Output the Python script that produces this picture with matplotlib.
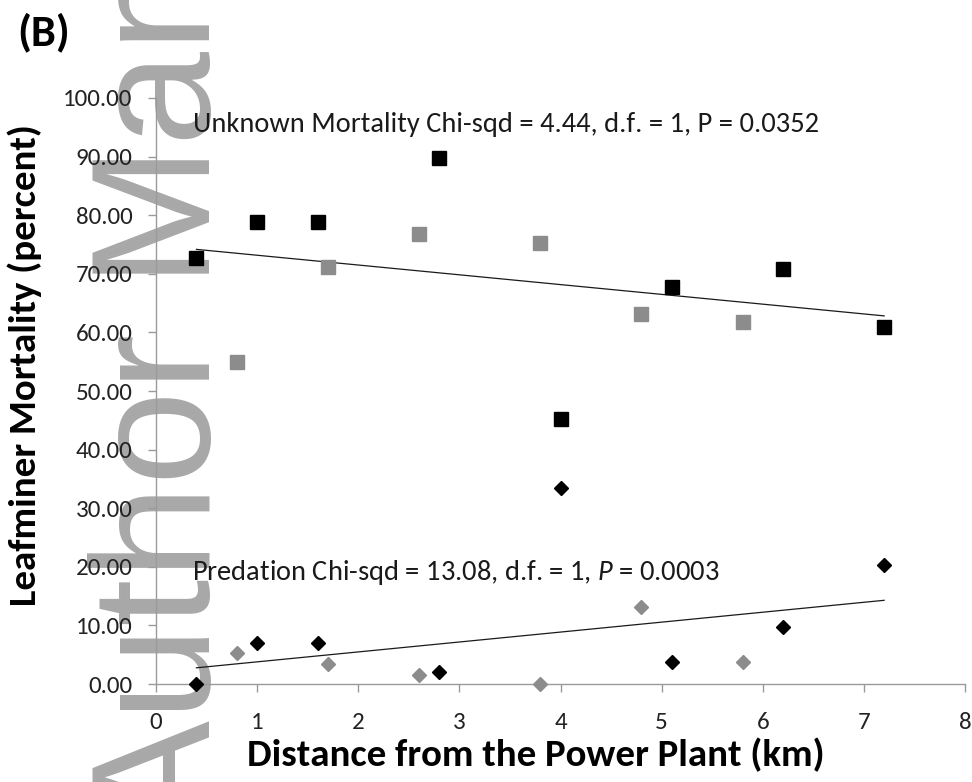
import numpy as np
import matplotlib.pyplot as plt

plt.rcParams['font.family'] = 'Carlito'
plt.rcParams['mathtext.fontset'] = 'custom'
plt.rcParams['mathtext.rm'] = 'Carlito'
plt.rcParams['mathtext.it'] = 'Carlito:italic'

# distance from the plant (km) for the two site groups
dist_black = [0.4, 1.0, 1.6, 2.8, 4.0, 5.1, 6.2, 7.2]
dist_grey = [0.8, 1.7, 2.6, 3.8, 4.8, 5.8]

# unknown mortality (percent)
unknown_black = [72.7, 78.8, 78.8, 89.8, 45.2, 67.7, 70.8, 60.9]
unknown_grey = [55.0, 71.2, 76.8, 75.3, 63.1, 61.8]

# predation (percent)
pred_black = [0.0, 7.0, 7.0, 2.0, 33.4, 3.75, 9.7, 20.3]
pred_grey = [5.3, 3.4, 1.5, 0.0, 13.1, 3.75]

y_ticks = [0, 10, 20, 30, 40, 50, 60, 70, 80, 90, 100]
x_ticks = [0, 1, 2, 3, 4, 5, 6, 7, 8]

unknown_note = "Unknown Mortality Chi-sqd = 4.44, d.f. = 1, P = 0.0352"
pred_note = "Predation Chi-sqd = 13.08, d.f. = 1, $P$ = 0.0003"

fig = plt.figure(figsize=(9.72, 7.82), dpi=100)
ax = fig.add_axes([0.1605, 0.1253, 0.8323, 0.7494])
ax.set_facecolor('none')

# manuscript watermark behind the plot
fig.text(210 / 972, -51 / 782, "Author Manuscript", family='Liberation Sans',
         fontsize=122, color='#a8a8a8', rotation=90, rotation_mode='anchor',
         ha='left', va='baseline', zorder=-1)

grey = '#8c8c8c'
ax.plot(dist_black, unknown_black, 's', color='black', ms=10.5, clip_on=False, zorder=4)
ax.plot(dist_grey, unknown_grey, 's', color=grey, ms=10.5, clip_on=False, zorder=3)
ax.plot(dist_black, pred_black, 'D', color='black', ms=6.8, clip_on=False, zorder=4)
ax.plot(dist_grey, pred_grey, 'D', color=grey, ms=6.8, clip_on=False, zorder=3)

# linear trend over both groups
all_x = np.array(dist_black + dist_grey)
xs = np.array([all_x.min(), all_x.max()])
for ys in (unknown_black + unknown_grey, pred_black + pred_grey):
    k, b = np.polyfit(all_x, ys, 1)
    ax.plot(xs, k * xs + b, color='#1a1a1a', lw=0.9, zorder=2)

ax.text(0.366, 94.2, unknown_note, fontsize=20.5, color='#1a1a1a', va='baseline')
ax.text(0.356, 17.7, pred_note, fontsize=20.5, color='#1a1a1a', va='baseline')

ax.set_xlim(0, 8)
ax.set_ylim(0, 100)
ax.set_xticks(x_ticks)
ax.set_yticks(y_ticks)
ax.set_yticklabels([f"{v:.2f}" for v in y_ticks])

for side in ('top', 'right'):
    ax.spines[side].set_visible(False)
for side in ('left', 'bottom'):
    ax.spines[side].set_color('#9a9a9a')
    ax.spines[side].set_linewidth(1.0)
ax.tick_params(axis='both', direction='out', length=6, width=1.0, color='#9a9a9a',
               labelsize=18, labelcolor='#222222')
ax.tick_params(axis='x', pad=14)
ax.tick_params(axis='y', pad=11)

ax.set_xlabel("Distance from the Power Plant (km)", fontsize=28, fontweight='bold')
ax.xaxis.set_label_coords((536 - 156) / 809, (684 - 755) / 586)
ax.xaxis.label.set_va('center')
ax.set_ylabel("Leafminer Mortality (percent)", fontsize=28, fontweight='bold')
ax.yaxis.set_label_coords((25 - 156) / 809, (684 - 365) / 586)
ax.yaxis.label.set_va('center')

fig.text(17 / 972, 1 - 32 / 782, "(B)", fontsize=32, fontweight='bold', va='center', ha='left')

fig.savefig('out.png', dpi=100)
